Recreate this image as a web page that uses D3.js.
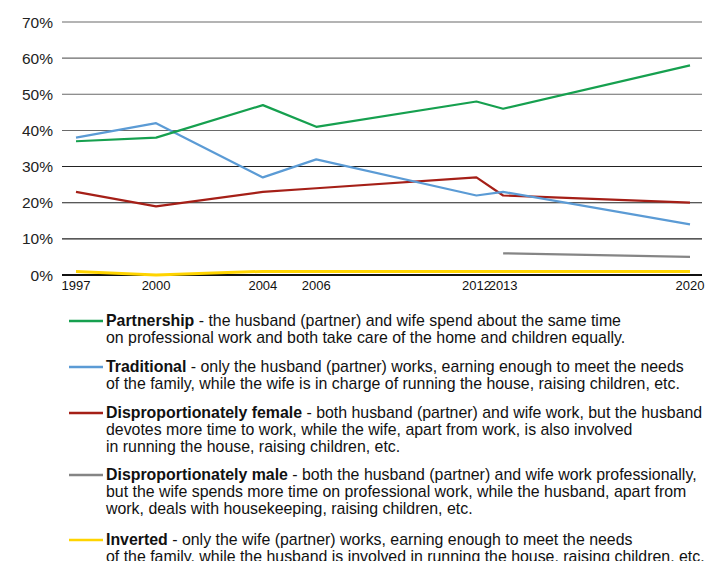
<!DOCTYPE html>
<html lang="en">
  <head>
    <meta charset="UTF-8" />
    <title>Partnership models 1997-2020</title>
    <script src="https://d3js.org/d3.v7.min.js"></script>
    <style>
      body {
        margin: 0;
        padding: 0;
        background: #fff;
      }
      svg {
        display: block;
        font-family: "Liberation Sans", Arial, sans-serif;
      }
      .legend text {
        font-family: "Liberation Sans Narrow", "Arial Narrow", "Liberation Sans", sans-serif;
        font-size: 15.9px;
        fill: #111;
      }
    </style>
  </head>
  <body>
    <svg></svg>
    <script>
      const years = [1997, 2000, 2004, 2006, 2012, 2013, 2020];
      const yTicks = [0, 10, 20, 30, 40, 50, 60, 70];

      const partnership = [37, 38, 47, 41, 48, 46, 58];
      const traditional = [38, 42, 27, 32, 22, 23, 14];
      const dispFemale = [23, 19, 23, 24, 27, 22, 20];
      const dispMale = [null, null, null, null, null, 6, 5];
      const inverted = [1, 0, 1, 1, 1, 1, 1];

      const seriesNames = [
        "Partnership",
        "Traditional",
        "Disproportionately female",
        "Disproportionately male",
        "Inverted",
      ];
      const seriesColors = ["#16a04f", "#5b9bd5", "#a51f17", "#858585", "#ffd400"];
      const descriptions = [
        [
          " - the husband (partner) and wife spend about the same time",
          "on professional work and both take care of the home and children equally.",
        ],
        [
          " - only the husband (partner) works, earning enough to meet the needs",
          "of the family, while the wife is in charge of running the house, raising children, etc.",
        ],
        [
          " - both husband (partner) and wife work, but the husband",
          "devotes more time to work, while the wife, apart from work, is also involved",
          "in running the house, raising children, etc.",
        ],
        [
          " - both the husband (partner) and wife work professionally,",
          "but the wife spends more time on professional work, while the husband, apart from",
          "work, deals with housekeeping, raising children, etc.",
        ],
        [
          " - only the wife (partner) works, earning enough to meet the needs",
          "of the family, while the husband is involved in running the house, raising children, etc.",
        ],
      ];
      const seriesValues = [partnership, traditional, dispFemale, dispMale, inverted];

      const width = 708;
      const height = 561;
      const svg = d3.select("svg").attr("width", width).attr("height", height);

      const x = d3.scaleLinear().domain([1997, 2020]).range([76, 690]);
      const y = d3.scaleLinear().domain([0, 70]).range([275, 22]);

      // gridlines + y labels
      const grid = svg.append("g");
      grid
        .selectAll("line")
        .data(yTicks)
        .join("line")
        .attr("x1", 62)
        .attr("x2", 702)
        .attr("y1", (d) => y(d))
        .attr("y2", (d) => y(d))
        .attr("stroke", (d) => (d === 0 ? "#111" : d >= 40 ? "#6a6a6a" : "#222"))
        .attr("stroke-width", (d) => (d === 0 ? 1.8 : 1.1));

      grid
        .selectAll("text")
        .data(yTicks)
        .join("text")
        .attr("x", 53)
        .attr("y", (d) => y(d) + 5.5)
        .attr("text-anchor", "end")
        .attr("font-size", 15.5)
        .attr("fill", "#222")
        .text((d) => d + "%");

      // x labels
      svg
        .append("g")
        .selectAll("text")
        .data(years)
        .join("text")
        .attr("x", (d) => x(d))
        .attr("y", 290)
        .attr("text-anchor", "middle")
        .attr("font-size", 13)
        .attr("fill", "#111")
        .text((d) => d);

      // lines
      const line = d3
        .line()
        .defined((d) => d[1] != null)
        .x((d) => x(d[0]))
        .y((d) => y(d[1]));

      const drawOrder = [4, 3, 2, 1, 0];
      svg
        .append("g")
        .selectAll("path")
        .data(drawOrder)
        .join("path")
        .attr("fill", "none")
        .attr("stroke", (i) => seriesColors[i])
        .attr("stroke-width", (i) => (i === 4 ? 3 : 2.2))
        .attr("stroke-linejoin", "round")
        .attr("d", (i) => line(years.map((yr, j) => [yr, seriesValues[i][j]])));

      // legend
      const legendTop = [321, 367, 413, 475, 540];
      const lh = 17;
      const legend = svg.append("g").attr("class", "legend");
      seriesNames.forEach((name, i) => {
        const g = legend.append("g");
        g.append("line")
          .attr("x1", 69)
          .attr("x2", 103)
          .attr("y1", legendTop[i])
          .attr("y2", legendTop[i])
          .attr("stroke", seriesColors[i])
          .attr("stroke-width", 2.5);
        const t = g
          .append("text")
          .attr("x", 106)
          .attr("y", legendTop[i] + 5);
        t.append("tspan").attr("font-weight", "bold").text(name);
        t.append("tspan").text(descriptions[i][0]);
        descriptions[i].slice(1).forEach((s, k) => {
          g.append("text")
            .attr("x", 106)
            .attr("y", legendTop[i] + 5 + lh * (k + 1))
            .text(s);
        });
      });
    </script>
  </body>
</html>
